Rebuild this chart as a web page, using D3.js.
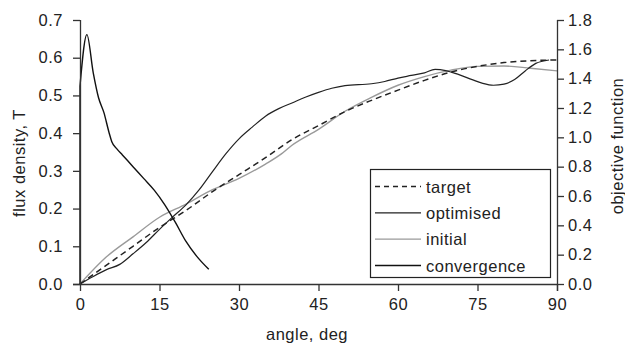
<!DOCTYPE html>
<html>
<head>
<meta charset="utf-8">
<script src="https://cdn.jsdelivr.net/npm/d3@7"></script>
<style>
  html, body { margin: 0; padding: 0; background: #fff; }
  svg { display: block; }
  text { font-family: "Liberation Sans", Arial, sans-serif; font-size: 16.5px; fill: #222; letter-spacing: 0.5px; }
</style>
</head>
<body>
<svg width="625" height="347"></svg>
<script>
// angle ticks and axis ticks
const angleTicks = [0, 15, 30, 45, 60, 75, 90];
const fluxTicks = [0, 0.1, 0.2, 0.3, 0.4, 0.5, 0.6, 0.7];
const objTicks = [0, 0.2, 0.4, 0.6, 0.8, 1.0, 1.2, 1.4, 1.6, 1.8];

// target flux density (dashed)
const targetAngle = [0, 5, 10, 15, 20, 25, 30, 35, 40, 45, 50, 55, 60, 65, 70, 75, 80, 85, 90];
const targetFlux = [0, 0.05, 0.1, 0.15, 0.195, 0.245, 0.29, 0.335, 0.383, 0.42, 0.457, 0.487, 0.514, 0.54, 0.562, 0.577, 0.587, 0.592, 0.594];

// optimised flux density
const optAngle = [0, 2.5, 5, 7.5, 10, 12.5, 15, 17.5, 20, 22.5, 25, 27.5, 30, 32.5, 35, 37.5, 40, 42.5, 45, 47.5, 50, 55, 57.5, 60, 62.5, 65, 67, 69, 71.5, 74, 76, 78, 80, 82, 84, 86, 88.5];
const optFlux = [0, 0.02, 0.038, 0.052, 0.08, 0.11, 0.145, 0.178, 0.21, 0.25, 0.298, 0.345, 0.385, 0.416, 0.445, 0.465, 0.48, 0.495, 0.508, 0.519, 0.526, 0.531, 0.537, 0.546, 0.553, 0.56, 0.569, 0.566, 0.555, 0.542, 0.532, 0.527, 0.53, 0.542, 0.565, 0.585, 0.594];

// initial flux density (grey)
const initAngle = [0, 5, 10, 15, 20, 25, 30, 35, 38, 40, 45, 50, 55, 60, 65, 70, 75, 80, 85, 90];
const initFlux = [0, 0.072, 0.125, 0.177, 0.212, 0.25, 0.28, 0.318, 0.345, 0.368, 0.41, 0.458, 0.495, 0.527, 0.55, 0.567, 0.577, 0.578, 0.572, 0.565];

// convergence of objective function (right axis)
const convIter = [0, 0, 1.3, 2.5, 3.5, 4.5, 5.5, 6, 7, 8, 10, 12, 14, 16, 18, 20, 22, 24.3];
const convObj = [0, 1.35, 1.7, 1.44, 1.27, 1.17, 1.03, 0.97, 0.92, 0.88, 0.8, 0.72, 0.64, 0.54, 0.42, 0.29, 0.19, 0.1];

const svg = d3.select("svg");
const axisColor = "#333";

const x = d3.scaleLinear().domain([0, 90]).range([80, 557]);
const yL = d3.scaleLinear().domain([0, 0.7]).range([284, 20]);
const yR = d3.scaleLinear().domain([0, 1.8]).range([284, 20]);

// series
const zip = (a, b) => a.map((v, i) => [v, b[i]]);
const lineL = d3.line().x(d => x(d[0])).y(d => yL(d[1])).curve(d3.curveMonotoneX);
const lineR = d3.line().x(d => x(d[0])).y(d => yR(d[1])).curve(d3.curveLinear);

svg.append("path")
  .attr("d", lineL(zip(initAngle, initFlux)))
  .attr("fill", "none").attr("stroke", "#9a9a9a").attr("stroke-width", 1.4);

svg.append("path")
  .attr("d", lineL(zip(targetAngle, targetFlux)))
  .attr("fill", "none").attr("stroke", "#222").attr("stroke-width", 1.5)
  .attr("stroke-dasharray", "6,4");

svg.append("path")
  .attr("d", lineL(zip(optAngle, optFlux)))
  .attr("fill", "none").attr("stroke", "#222").attr("stroke-width", 1.2);

svg.append("path")
  .attr("d", d3.line().x(d => x(d[0])).y(d => yR(d[1])).curve(d3.curveMonotoneX)(zip(convIter.slice(1), convObj.slice(1))))
  .attr("fill", "none").attr("stroke", "#111").attr("stroke-width", 1.4);
svg.append("path")
  .attr("d", lineR(zip(convIter.slice(0, 2), convObj.slice(0, 2))))
  .attr("fill", "none").attr("stroke", "#111").attr("stroke-width", 1.4);

// axes
const gx = svg.append("g").attr("transform", "translate(0,284)")
  .call(d3.axisBottom(x).tickValues(angleTicks).tickSize(7).tickPadding(7).tickFormat(d3.format("d")));
gx.select(".domain").attr("d", "M73,0.5H557");

const gl = svg.append("g").attr("transform", "translate(80,0)")
  .call(d3.axisLeft(yL).tickValues(fluxTicks).tickSize(7).tickPadding(10).tickFormat(d3.format(".1f")));

const gr = svg.append("g").attr("transform", "translate(557,0)")
  .call(d3.axisRight(yR).tickValues(objTicks).tickSize(7).tickPadding(4).tickFormat(d3.format(".1f")));

[gx, gl, gr].forEach(g => {
  g.selectAll(".domain").attr("stroke", axisColor).attr("stroke-width", 1.3);
  g.selectAll(".tick line").attr("stroke", axisColor).attr("stroke-width", 1.3);
  g.selectAll(".tick text").attr("font-size", null).attr("font-family", null).style("fill", "#222");
});
gl.selectAll(".domain").attr("d", "M0.5,20V284");
gr.selectAll(".domain").attr("d", "M0.5,20V291");

// axis titles
svg.append("text").attr("x", 307).attr("y", 340).attr("text-anchor", "middle").text("angle, deg");
svg.append("text").attr("transform", "translate(25,163) rotate(-90)").attr("text-anchor", "middle").text("flux density, T");
svg.append("text").attr("transform", "translate(623,146) rotate(-90)").attr("text-anchor", "middle").text("objective function");

// legend
const legendItems = [
  { name: "target", stroke: "#222", dash: "5,4", width: 1.4 },
  { name: "optimised", stroke: "#222", dash: null, width: 1.1 },
  { name: "initial", stroke: "#9a9a9a", dash: null, width: 1.3 },
  { name: "convergence", stroke: "#111", dash: null, width: 1.5 }
];
const legend = svg.append("g");
legend.append("rect").attr("x", 370.5).attr("y", 169.5).attr("width", 180).attr("height", 108)
  .attr("fill", "#fff").attr("stroke", "#222").attr("stroke-width", 1.2);
const rowY = d3.scalePoint().domain(legendItems.map(d => d.name)).range([186.5, 265.5]);
legendItems.forEach(d => {
  legend.append("line").attr("x1", 375).attr("x2", 421).attr("y1", rowY(d.name)).attr("y2", rowY(d.name))
    .attr("stroke", d.stroke).attr("stroke-width", d.width).attr("stroke-dasharray", d.dash);
  legend.append("text").attr("x", 426).attr("y", rowY(d.name) + 6).text(d.name);
});
</script>
</body>
</html>
